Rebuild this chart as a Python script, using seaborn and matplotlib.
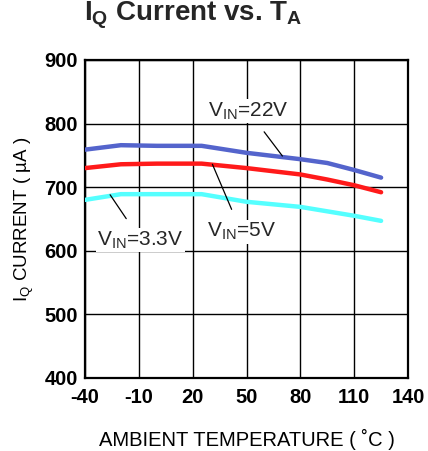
import pandas as pd
import numpy as np
import matplotlib
matplotlib.use("Agg")
import matplotlib.pyplot as plt
import seaborn as sns

# Data
temp_c = [-40, -20, 0, 25, 50, 65, 80, 95, 110, 125]
iq_22v = [759, 766, 765, 765, 754, 749, 744, 738, 727, 715]
iq_5v = [730, 736, 737, 737, 730, 725, 720, 712, 703, 692]
iq_3v3 = [680, 689, 689, 689, 677, 673, 669, 662, 655, 647]

series_names = ["22V", "5V", "3.3V"]
series_colors = ["#5464CC", "#FF1A1A", "#55FFFF"]

xticks = [-40, -10, 20, 50, 80, 110, 140]
yticks = [400, 500, 600, 700, 800, 900]

df = pd.DataFrame({
    "temp": temp_c * 3,
    "iq": iq_22v + iq_5v + iq_3v3,
    "vin": ["22V"] * len(temp_c) + ["5V"] * len(temp_c) + ["3.3V"] * len(temp_c),
})

sns.set_theme(style="whitegrid")
plt.rcParams["font.family"] = ["Liberation Sans", "DejaVu Sans"]
plt.rcParams["mathtext.fontset"] = "custom"
plt.rcParams["mathtext.rm"] = "Liberation Sans"
plt.rcParams["axes.unicode_minus"] = False

fig = plt.figure(figsize=(4.28, 4.51), dpi=100)
ax = fig.add_axes([0.1986, 0.162, 0.7547, 0.705])

sns.lineplot(data=df, x="temp", y="iq", hue="vin", hue_order=series_names,
             palette=series_colors, linewidth=3.2, legend=False, ax=ax, zorder=3)

ax.set_xlim(-40, 140)
ax.set_ylim(400, 900)
ax.set_xticks(xticks)
ax.set_yticks(yticks)
ax.grid(True, color="black", linewidth=1.0)
for s in ax.spines.values():
    s.set_color("black")
    s.set_linewidth(1.6)
ax.tick_params(axis="both", length=0, labelsize=14.5, colors="black")
ax.tick_params(axis="x", pad=7)
ax.tick_params(axis="y", pad=5)
for lab in ax.get_xticklabels() + ax.get_yticklabels():
    lab.set_fontweight("bold")

ax.set_xlabel("AMBIENT TEMPERATURE ( ˚C )", fontsize=14.5, color="black", labelpad=16)
ax.set_ylabel(r"$\mathregular{I_Q}$ CURRENT ( µA )", fontsize=13.5, color="black", labelpad=6)
fig.text(0.451, 0.965, r"$\mathregular{I_Q}$ Current vs. $\mathregular{T_A}$",
         ha="center", va="center", fontsize=20, fontweight="bold")

# Series labels with leader lines
box = dict(facecolor="white", edgecolor="none", pad=1)
arrow = dict(arrowstyle="-", color="black", lw=0.9, shrinkA=8, shrinkB=0)
ax.annotate(r"$\mathregular{V_{IN}}$=22V", xy=(70, 749), xytext=(51, 820),
            ha="center", va="center", fontsize=15, bbox=box, arrowprops=arrow, zorder=4)
ax.annotate(r"$\mathregular{V_{IN}}$=5V", xy=(31, 736), xytext=(47, 630),
            ha="center", va="center", fontsize=15, bbox=box, arrowprops=arrow, zorder=4)
ax.annotate(r"$\mathregular{V_{IN}}$=3.3V", xy=(-26, 688), xytext=(-9, 617),
            ha="center", va="center", fontsize=15, bbox=box, arrowprops=arrow, zorder=4)

fig.savefig("out.png", dpi=100)
